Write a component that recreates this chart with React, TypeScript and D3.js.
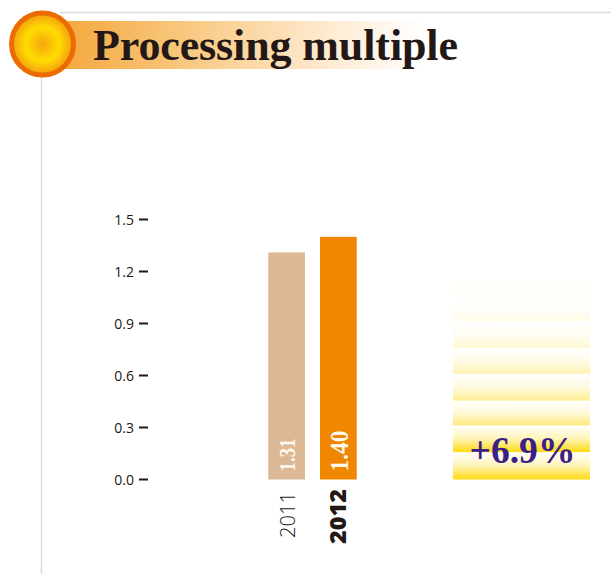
import React from "react";
import * as d3 from "d3";

const W = 611, H = 574;
const title = "Processing multiple";
const years = ["2011", "2012"];
const values = [1.31, 1.4];
const valueLabels = ["1.31", "1.40"];
const barColors = ["#DCB894", "#F18700"];
const yTicks = [0, 0.3, 0.6, 0.9, 1.2, 1.5];
const bandStarts = [0, 0.158, 0.312, 0.455, 0.61, 0.758, 0.912, 1.055];
const bandEnds = [0.158, 0.312, 0.455, 0.61, 0.758, 0.912, 1.055, 1.25];
const bandStrengths = [1, 1, 0.55, 0.45, 0.32, 0.18, 0.1, 0.03];
const changeLabel = "+6.9%";

export default function App() {
  const y = d3.scaleLinear().domain([0, 1.5]).range([479.5, 219.5]);
  const x = d3.scaleBand().domain(years).range([260.5, 364.5]).paddingInner(0.29).paddingOuter(0.15);
  const mix = d3.interpolateRgb("#FFFFFF", "#FFDA10");
  const serif = "'Liberation Serif', serif";
  const sans = "'Open Sans', 'Noto Sans', sans-serif";
  const labelSize = [24, 26];
  const labelLength = [33, 41];
  const labelOffset = [8.5, 10];
  const yearSize = [21, 23];
  const yearLength = [46, 55];
  return (
    <svg width={W} height={H} style={{ position: "absolute", left: 0, top: 0, background: "#fff" }}>
      <defs>
        <linearGradient id="banner" x1="0" x2="1" y1="0" y2="0">
          <stop offset="0" stopColor="#F4A73C" />
          <stop offset="0.4" stopColor="#F9CD8A" />
          <stop offset="0.75" stopColor="#FEEBD3" />
          <stop offset="1" stopColor="#FFFFFF" />
        </linearGradient>
        <radialGradient id="sun">
          <stop offset="0" stopColor="#F6A60E" />
          <stop offset="0.55" stopColor="#FFDD00" />
          <stop offset="1" stopColor="#F29A12" />
        </radialGradient>
        {bandStrengths.map((s, i) => (
          <linearGradient key={i} id={`band${i}`} x1="0" x2="0" y1="0" y2="1">
            <stop offset="0" stopColor="#FFFFFF" />
            <stop offset="0.5" stopColor={mix(s * 0.3)} />
            <stop offset="1" stopColor={mix(s)} />
          </linearGradient>
        ))}
      </defs>
      <line x1={60} x2={611} y1={12.5} y2={12.5} stroke="#DCDCDC" strokeWidth={1.5} />
      <line x1={41.5} x2={41.5} y1={70} y2={574} stroke="#DCDCDC" strokeWidth={1.5} />
      <rect x={60} y={21} width={362} height={48} fill="url(#banner)" />
      <circle cx={42.5} cy={44} r={31} fill="url(#sun)" stroke="#EC6C00" strokeWidth={5} />
      <text x={93} y={60} fontFamily={serif} fontWeight="bold" fontSize={44} fill="#231815" textLength={365} lengthAdjust="spacing">
        {title}
      </text>

      {yTicks.map((t) => (
        <g key={t}>
          <line x1={139} x2={148} y1={y(t)} y2={y(t)} stroke="#231815" strokeWidth={2} />
          <text x={134} y={y(t) + 5} textAnchor="end" fontFamily={sans} fontSize={14} fill="#231815">
            {t.toFixed(1)}
          </text>
        </g>
      ))}

      {years.map((yr, i) => {
        const bx = x(yr)!, bw = x.bandwidth();
        const cx = bx + bw / 2;
        return (
          <g key={yr}>
            <rect x={bx} y={y(values[i])} width={bw} height={y(0) - y(values[i])} fill={barColors[i]} />
            <text
              transform={`translate(${cx + labelOffset[i]},${y(0) - 8}) rotate(-90)`}
              fontFamily={serif}
              fontWeight="bold"
              fontSize={labelSize[i]}
              fill="#FFF8F0"
              textLength={labelLength[i]}
              lengthAdjust="spacingAndGlyphs"
            >
              {valueLabels[i]}
            </text>
            <text
              transform={`translate(${cx + 8},${i === 0 ? 538 : 544}) rotate(-90)`}
              fontFamily={sans}
              fontWeight={i === 0 ? 300 : 800}
              fontSize={yearSize[i]}
              fill="#231815"
              textLength={yearLength[i]}
              lengthAdjust="spacingAndGlyphs"
            >
              {yr}
            </text>
          </g>
        );
      })}

      {bandStrengths.map((_, i) => (
        <rect
          key={i}
          x={453}
          y={y(bandEnds[i])}
          width={137}
          height={y(bandStarts[i]) - y(bandEnds[i])}
          fill={`url(#band${i})`}
        />
      ))}
      <text x={522.5} y={463} textAnchor="middle" fontFamily={serif} fontWeight="bold" fontSize={38} fill="#3B1E87" textLength={106} lengthAdjust="spacingAndGlyphs">
        {changeLabel}
      </text>
    </svg>
  );
}
